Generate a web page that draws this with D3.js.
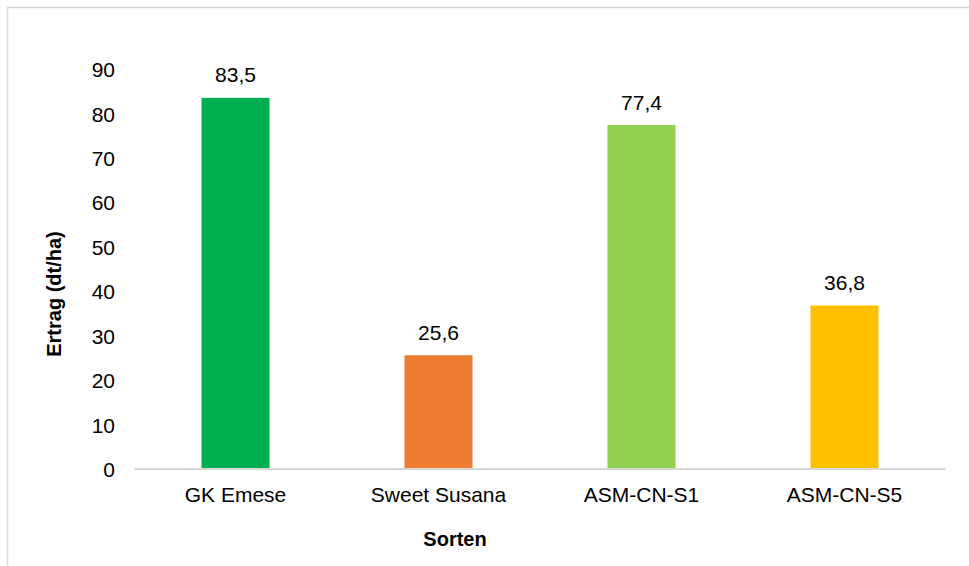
<!DOCTYPE html>
<html><head><meta charset="utf-8">
<script src="https://cdn.jsdelivr.net/npm/d3@7"></script>
<style>body{margin:0;background:#fff}svg{display:block;font-family:"Liberation Sans",Arial,sans-serif}</style>
</head><body><svg id="c" width="969" height="566"></svg>
<script>
const categories = ["GK Emese", "Sweet Susana", "ASM-CN-S1", "ASM-CN-S5"];
const values = [83.5, 25.6, 77.4, 36.8];
const colors = ["#00b050", "#ed7d31", "#92d050", "#ffc000"];
const yTicks = [0, 10, 20, 30, 40, 50, 60, 70, 80, 90];
const yTitle = "Ertrag (dt/ha)";
const xTitle = "Sorten";

const svg = d3.select("#c");
svg.append("rect").attr("x", 7.5).attr("y", 7.5).attr("width", 1000).attr("height", 1000)
  .attr("fill", "#fff").attr("stroke", "#d9d9d9").attr("stroke-width", 1.5);

const x = d3.scaleBand().domain(categories).range([134, 946]).paddingInner(0.665).paddingOuter(0.3325);
const y = d3.scaleLinear().domain([0, 90]).range([469, 69]);

svg.selectAll(".bar").data(values).join("rect")
  .attr("x", (d, i) => x(categories[i])).attr("width", x.bandwidth())
  .attr("y", d => y(d)).attr("height", d => y(0) - y(d))
  .attr("fill", (d, i) => colors[i]);

svg.selectAll(".vl").data(values).join("text")
  .attr("x", (d, i) => x(categories[i]) + x.bandwidth() / 2)
  .attr("y", d => y(d) - 15.5).attr("text-anchor", "middle")
  .attr("font-size", 21).attr("fill", "#000")
  .text(d => d.toFixed(1).replace(".", ","));

// x axis
const xa = svg.append("g").attr("transform", `translate(0,${y(0)})`)
  .call(d3.axisBottom(x).tickSize(0).tickPadding(0));
xa.select(".domain").attr("stroke", "#d9d9d9").attr("stroke-width", 2).attr("d", "M134,0H946");
xa.selectAll("text").attr("font-size", 21).attr("fill", "#000").attr("font-family", "Liberation Sans, Arial, sans-serif")
  .attr("dy", null).attr("y", 33);

// y axis
const ya = svg.append("g").attr("transform", "translate(115,0)")
  .call(d3.axisLeft(y).tickValues(yTicks).tickSize(0).tickPadding(0));
ya.select(".domain").remove();
ya.selectAll("text").attr("font-size", 21).attr("fill", "#000").attr("font-family", "Liberation Sans, Arial, sans-serif")
  .attr("dy", "0.36em");

svg.append("text").attr("transform", "translate(61,294) rotate(-90)")
  .attr("text-anchor", "middle").attr("font-size", 20).attr("font-weight", "bold").text(yTitle);
svg.append("text").attr("x", 455).attr("y", 546)
  .attr("text-anchor", "middle").attr("font-size", 20).attr("font-weight", "bold").text(xTitle);
</script></body></html>
